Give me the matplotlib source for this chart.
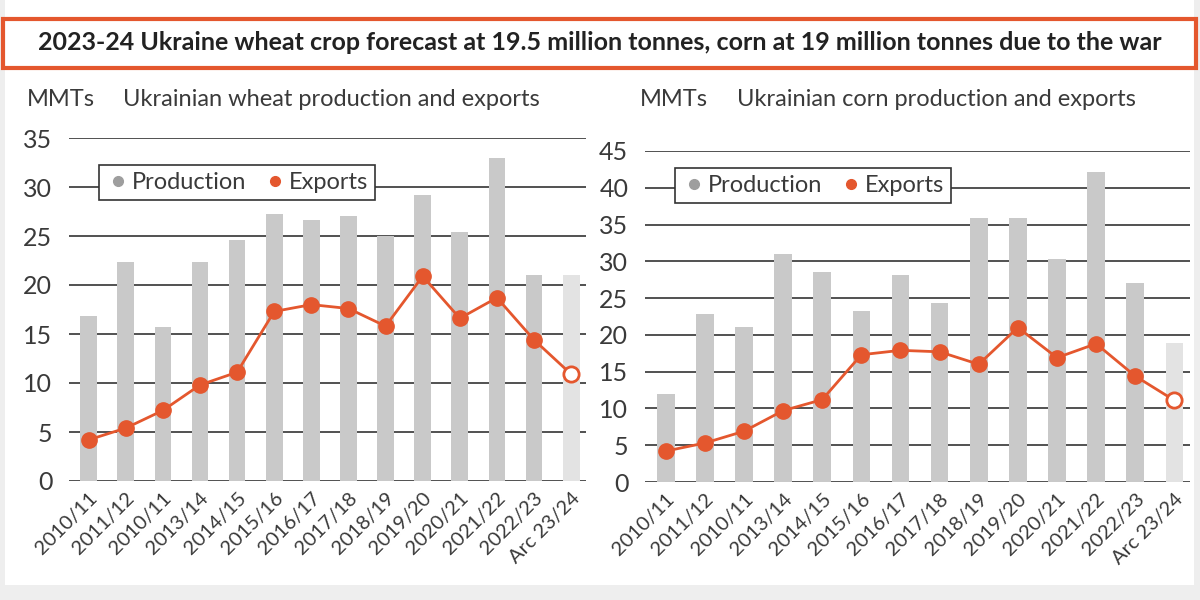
import matplotlib.pyplot as plt
from matplotlib.patches import Rectangle
from matplotlib.lines import Line2D

# data
seasons = ['2010/11', '2011/12', '2010/11', '2013/14', '2014/15', '2015/16', '2016/17',
           '2017/18', '2018/19', '2019/20', '2020/21', '2021/22', '2022/23', 'Arc 23/24']
wheat_production = [16.8, 22.3, 15.7, 22.3, 24.6, 27.2, 26.6, 27.0, 25.0, 29.2, 25.4, 33.0, 21.0, 21.0]
wheat_exports = [4.2, 5.4, 7.2, 9.8, 11.1, 17.3, 18.0, 17.6, 15.8, 20.9, 16.6, 18.7, 14.4, 10.9]
corn_production = [11.9, 22.9, 21.1, 31.0, 28.5, 23.3, 28.1, 24.3, 35.9, 35.9, 30.3, 42.2, 27.1, 18.9]
corn_exports = [4.2, 5.3, 6.9, 9.7, 11.2, 17.3, 17.9, 17.7, 16.0, 21.0, 16.9, 18.8, 14.4, 11.1]

ORANGE = '#e4572e'
BAR = '#c9c9c9'
BAR_LAST = '#e3e3e3'
TXT = '#3a3a3a'
FONT = 'Lato'

plt.rcParams['font.family'] = [FONT, 'DejaVu Sans']

fig = plt.figure(figsize=(12, 6), dpi=100, facecolor='#eeeeee')
# white panel (behind everything)
fig.patches.append(Rectangle((5 / 1200, 15 / 600), 1189 / 1200, 585 / 600,
                             transform=fig.transFigure, facecolor='white', edgecolor='none', zorder=-5))
# title box
fig.patches.append(Rectangle((3 / 1200, 1 - 68 / 600), 1193 / 1200, 49 / 600,
                             transform=fig.transFigure, facecolor='white', edgecolor=ORANGE,
                             linewidth=3, zorder=1))
title = fig.text(0.5, 1 - 43 / 600,
                 '2023-24 Ukraine wheat crop forecast at 19.5 million tonnes, corn at 19 million tonnes due to the war',
                 ha='center', va='center', fontsize=18, fontweight='bold', color='#222222', zorder=2)
# fit title width to the box like the reference
fig.canvas.draw()
w = title.get_window_extent().width
title.set_fontsize(18 * 1126 / w)


def panel(rect, prod, exp, ymax, leg_anchor):
    ax = fig.add_axes(rect)
    ax.set_facecolor('none')
    x = list(range(len(seasons)))
    colors = [BAR] * (len(x) - 1) + [BAR_LAST]
    ax.bar(x, prod, width=0.45, color=colors, zorder=2)
    ax.plot(x[:-1], exp[:-1], color=ORANGE, lw=2, marker='o', ms=11, zorder=3)
    ax.plot(x[-2:], exp[-2:], color=ORANGE, lw=2, zorder=3)
    ax.plot(x[-1], exp[-1], marker='o', ms=11, mfc='white', mec=ORANGE, mew=2, zorder=4)
    ax.set_ylim(0, ymax)
    ax.set_xlim(-0.53, len(x) - 0.6)
    ax.set_yticks(range(0, ymax + 1, 5))
    ax.yaxis.grid(True, color='#333333', lw=1.2, zorder=1)
    ax.set_axisbelow(True)
    for s in ax.spines.values():
        s.set_visible(False)
    ax.tick_params(length=0)
    ax.tick_params(axis='y', labelsize=18, labelcolor=TXT, pad=12)
    ax.set_xticks(x)
    ax.set_xticklabels(seasons, rotation=45, ha='right', rotation_mode='anchor',
                       fontsize=14.5, color=TXT)
    ax.tick_params(axis='x', pad=6)
    handles = [Line2D([], [], ls='none', marker='o', ms=7, color='#9e9e9e'),
               Line2D([], [], ls='none', marker='o', ms=7, color=ORANGE)]
    leg = ax.legend(handles, ['Production', 'Exports'], ncol=2, loc='upper left',
                    bbox_to_anchor=leg_anchor, frameon=True, fancybox=False,
                    edgecolor='#333333', fontsize=17, handletextpad=0.1,
                    columnspacing=0.7, handlelength=1.0, borderpad=0.3,
                    labelcolor=TXT, framealpha=1)
    leg.get_frame().set_linewidth(1.2)
    leg.set_zorder(5)
    return ax


panel([69 / 1200, 119 / 600, 517 / 1200, 343 / 600], wheat_production, wheat_exports, 35, (0.035, 0.955))
panel([645 / 1200, 118 / 600, 545 / 1200, 331 / 600], corn_production, corn_exports, 45, (0.033, 0.985))

fig.text(27 / 1200, 1 - 100 / 600, 'MMTs', fontsize=17, color=TXT, va='center')
fig.text(123 / 1200, 1 - 100 / 600, 'Ukrainian wheat production and exports', fontsize=17,
         color=TXT, va='center')
fig.text(640 / 1200, 1 - 100 / 600, 'MMTs', fontsize=17, color=TXT, va='center')
fig.text(737 / 1200, 1 - 100 / 600, 'Ukrainian corn production and exports', fontsize=17,
         color=TXT, va='center')

fig.savefig('out.png', dpi=100, facecolor=fig.get_facecolor())
